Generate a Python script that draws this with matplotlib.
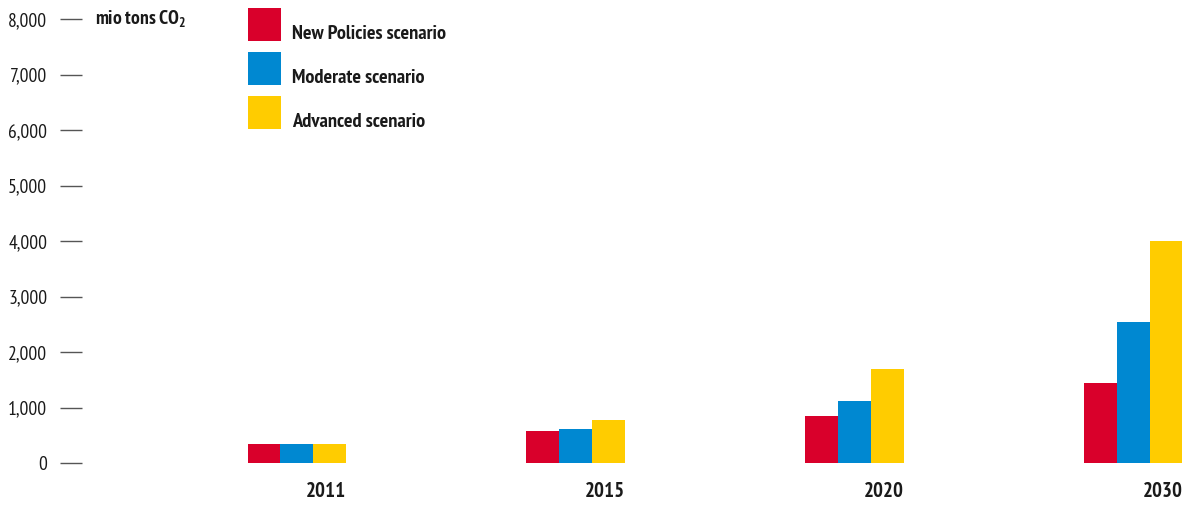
import numpy as np
import matplotlib
matplotlib.use('Agg')
import matplotlib.pyplot as plt
from matplotlib.patches import Rectangle

plt.rcParams['font.family'] = ['PT Sans Narrow', 'DejaVu Sans']
plt.rcParams['mathtext.fontset'] = 'custom'
plt.rcParams['mathtext.rm'] = 'PT Sans Narrow:bold'
plt.rcParams['mathtext.bf'] = 'PT Sans Narrow:bold'

years = ['2011', '2015', '2020', '2030']
new_policies = [350, 580, 850, 1450]
moderate = [350, 620, 1120, 2540]
advanced = [350, 780, 1700, 4000]

series = [('New Policies scenario', new_policies, '#d9002b'),
          ('Moderate scenario', moderate, '#0088d1'),
          ('Advanced scenario', advanced, '#ffcc00')]

yticks = [0, 1000, 2000, 3000, 4000, 5000, 6000, 7000, 8000]

W, H = 1198, 507
fig = plt.figure(figsize=(W / 100, H / 100), dpi=100)
ax = fig.add_axes([82 / W, 1 - 463 / H, 1 - 82 / W, (463 - 19) / H])

x = np.arange(len(years))
bw = 0.118
for k, (name, vals, col) in enumerate(series):
    ax.bar(x + (k - 1) * bw, vals, width=bw, color=col, linewidth=0)

ax.set_xlim(-0.771, 3.233)
ax.set_ylim(0, 8000)
for s in ax.spines.values():
    s.set_visible(False)

ax.set_yticks(yticks)
ax.set_yticklabels([f'{v:,}' for v in yticks], fontsize=14, color='#1a1a1a')
ax.tick_params(axis='y', length=16, width=1, color='#555555', pad=9)
ax.set_xticks([])

# year labels, right aligned under each group
for i, yr in enumerate(years):
    ax.text(x[i] + 1.5 * bw, -520, yr, ha='right', va='center',
            fontsize=15, fontweight='bold', color='#1a1a1a', clip_on=False)

fig.text(95 / W, 1 - 19 / H, 'mio tons CO$_\\mathrm{2}$', ha='left', va='center',
         fontsize=14, fontweight='bold', color='#1a1a1a')

# legend boxes
for k, (name, vals, col) in enumerate(series):
    top = 8 + 44 * k
    fig.patches.append(Rectangle((248 / W, 1 - (top + 33) / H), 33 / W, 33 / H,
                                 transform=fig.transFigure, color=col, linewidth=0))
    fig.text(292 / W, 1 - (top + 26) / H, name, ha='left', va='center',
             fontsize=14.7, fontweight='bold', color='#1a1a1a')

fig.savefig('out.png', dpi=100)
